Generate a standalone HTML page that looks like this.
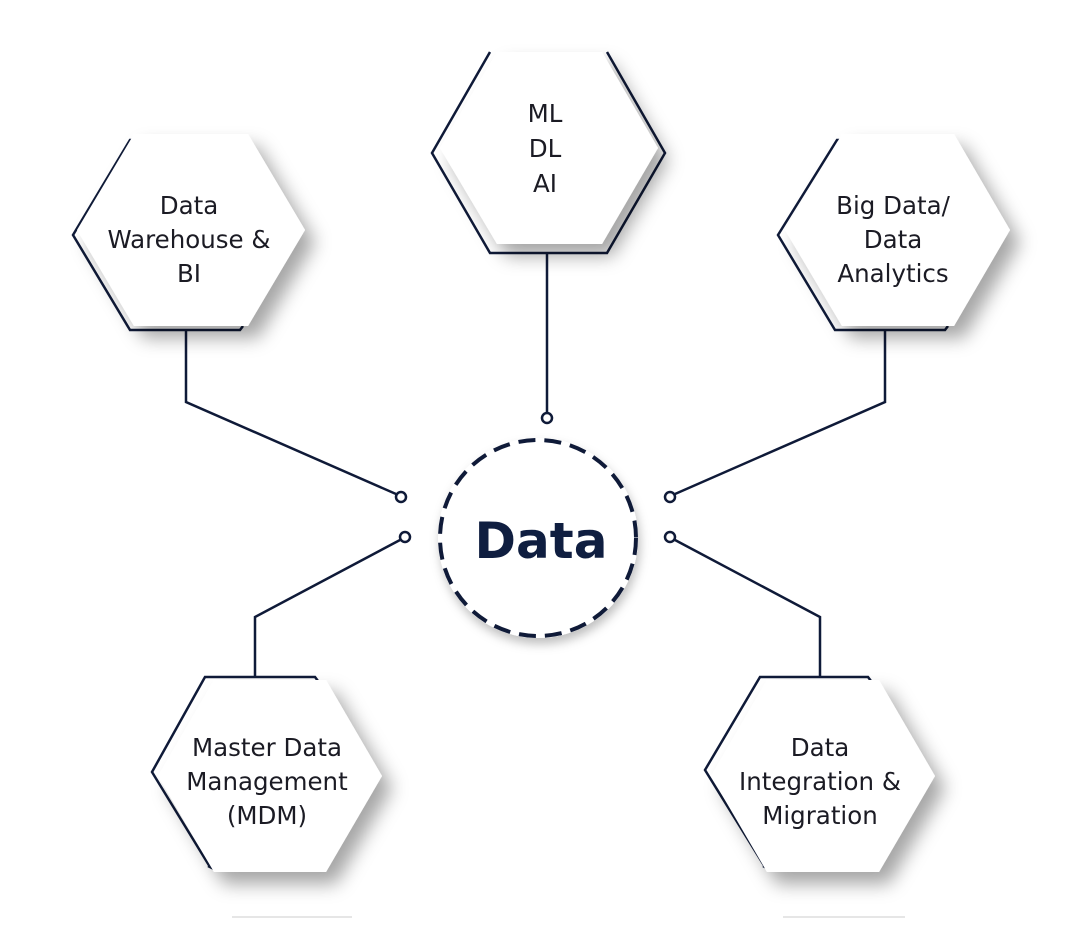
<!DOCTYPE html>
<html><head><meta charset="utf-8"><style>
html,body{margin:0;padding:0;background:#fff;}
svg{display:block;}
text{font-family:"DejaVu Sans","Liberation Sans",sans-serif;fill:#1b1b24;font-size:24.5px;}
</style></head><body>
<svg width="1080" height="931" viewBox="0 0 1080 931" xmlns="http://www.w3.org/2000/svg">
<defs>
<filter id="sh" x="-30%" y="-30%" width="170%" height="180%">
<feDropShadow dx="10" dy="12" stdDeviation="9" flood-color="#000" flood-opacity="0.35"/>
</filter>
<filter id="sh2" x="-30%" y="-30%" width="160%" height="160%">
<feDropShadow dx="2" dy="6" stdDeviation="5" flood-color="#000" flood-opacity="0.25"/>
</filter>
</defs>
<g fill="none" stroke="#0f1a38" stroke-width="2.5">
<polyline points="186,330 186,402 396,494"/>
<circle cx="401" cy="497" r="5" fill="#fff"/>
<line x1="547" y1="253" x2="547" y2="412"/>
<circle cx="547" cy="418" r="5" fill="#fff"/>
<polyline points="885,330 885,402 675,494"/>
<circle cx="670" cy="497" r="5" fill="#fff"/>
<polyline points="255,678 255,617 400,540"/>
<circle cx="405" cy="537" r="5" fill="#fff"/>
<polyline points="820,678 820,617 675,540"/>
<circle cx="670" cy="537" r="5" fill="#fff"/>
<polyline points="138,140 130,140 73,235 130,330 240,330 243,326"/>
<polyline points="490,52 432,153 490,253 607,253 665,153 607,52"/>
<polyline points="845,140 837,140 778,235 835,330 945,330 948,326"/>
<polyline points="208,866 210,867 152,772 205,677 315,677 318,681"/>
<polyline points="763,866 765,867 705,770 760,677 868,677 871,681"/>
</g>
<g fill="#fff" filter="url(#sh)">
<polygon points="77,230 134,134 248,134 305,230 248,326 134,326"/>
<polygon points="440,148 497,52 602,52 658,148 602,244 497,244"/>
<polygon points="785,230 842,134 954,134 1010,230 954,326 842,326"/>
<polygon points="158,776 214,680 326,680 382,776 326,872 214,872"/>
<polygon points="711,776 767,680 879,680 935,776 879,872 767,872"/>
</g>
<circle cx="538" cy="538" r="100" fill="#fff" filter="url(#sh2)"/>
<circle cx="538" cy="538" r="98" fill="none" stroke="#0f1a38" stroke-width="4" stroke-dasharray="17 9"/>
<text x="541" y="558" text-anchor="middle" style="font-family:'DejaVu Sans','Liberation Sans',sans-serif;font-weight:bold;font-size:50px;fill:#0f1e40">Data</text>
<g text-anchor="middle">
<text x="189" y="214">Data</text><text x="189" y="248">Warehouse &amp;</text><text x="189" y="282">BI</text>
<text x="545" y="122">ML</text><text x="545" y="157">DL</text><text x="545" y="192">AI</text>
<text x="893" y="214">Big Data/</text><text x="893" y="248">Data</text><text x="893" y="282">Analytics</text>
<text x="267" y="756">Master Data</text><text x="267" y="790">Management</text><text x="267" y="824">(MDM)</text>
<text x="820" y="756">Data</text><text x="820" y="790">Integration &amp;</text><text x="820" y="824">Migration</text>
</g>
<line x1="232" y1="917" x2="352" y2="917" stroke="#ddd" stroke-width="1.5"/>
<line x1="783" y1="917" x2="905" y2="917" stroke="#ddd" stroke-width="1.5"/>
</svg>
</body></html>
